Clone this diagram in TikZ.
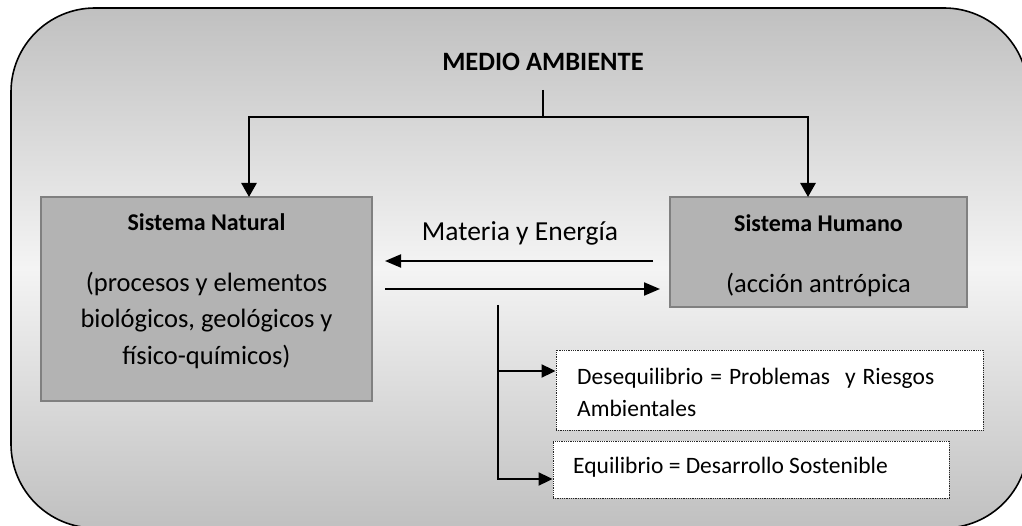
\documentclass[tikz,border=0pt]{standalone}
\usepackage{fontspec}
\setmainfont{Carlito}
\usetikzlibrary{arrows.meta,calc}
\definecolor{bgedge}{RGB}{192,192,192}
\definecolor{bgmid}{RGB}{244,244,244}
\definecolor{boxfill}{RGB}{179,179,179}
\definecolor{boxline}{RGB}{128,128,128}
\begin{document}
\begin{tikzpicture}[x=1pt,y=-1pt,
  conn/.style={line width=2.7pt,-{Triangle[width=15pt,length=14pt]}},
  flow/.style={line width=2pt,-{Triangle[width=13pt,length=16pt]}},
  branch/.style={line width=2pt,-{Triangle[width=13pt,length=14pt]}},
  plainline/.style={line width=2.7pt},
  sysbox/.style={draw=boxline,fill=boxfill,line width=1.5pt,inner sep=0pt,rectangle},
  outbox/.style={draw=black!85,fill=white,line width=0.9pt,dash pattern=on 0.9pt off 0.9pt,inner sep=0pt,rectangle},
  titletext/.style={font=\fontsize{24}{28}\selectfont\bfseries,inner sep=0pt},
  headtext/.style={font=\fontsize{26.5}{30}\selectfont\bfseries,inner sep=0pt},
  bodytext/.style={font=\fontsize{26.5}{36.5}\selectfont,align=center,inner sep=0pt},
  labeltext/.style={font=\fontsize{27.5}{32}\selectfont,inner sep=0pt},
  smalltext/.style={font=\fontsize{23.5}{32}\selectfont,align=left,inner sep=0pt}
]
\useasboundingbox (0,0) rectangle (1022,526);
\clip (0,0) rectangle (1022,526);
% background
\path[draw=black,line width=1.6pt,rounded corners=84pt,
  top color=bgedge,bottom color=bgedge,middle color=bgmid]
  (11,8) rectangle (1028,528);

% title
\node[headtext] (ma) at (543,62) {MEDIO AMBIENTE};

% system boxes
\node[sysbox,minimum width=331pt,minimum height=204pt] (sn) at (206.5,299) {};
\node[titletext] (snt) at (206.5,222) {Sistema Natural};
\node[bodytext] (snb) at (206.5,320) {(procesos y elementos\\biológicos, geológicos y\\físico-químicos)};

\node[sysbox,minimum width=297pt,minimum height=110pt] (sh) at (818.5,252) {};
\node[titletext] (sht) at (818.5,223) {Sistema Humano};
\node[bodytext] (shb) at (818.5,285) {(acción antrópica};

% outcome boxes
\node[outbox,minimum width=427pt,minimum height=80pt] (des) at (769.5,390) {};
\node[smalltext,anchor=west] (dest) at (577,392) {Desequilibrio\hspace{7pt}=\hspace{7pt}Problemas\hspace{15pt}y\hspace{7pt}Riesgos\\Ambientales};
\node[outbox,minimum width=396pt,minimum height=57pt] (eq) at (751,469.5) {};
\node[smalltext,anchor=west] (eqt) at (573,467) {Equilibrio = Desarrollo Sostenible};

% label
\node[labeltext] (me) at (520,233) {Materia y Energía};

% top connector
\coordinate (st) at (543,90);
\coordinate (jt) at (543,117);
\coordinate (snin) at (249,197);
\coordinate (shin) at (808,197);
\draw[plainline] (st) -- (jt);
\draw[conn] (jt) -| (snin);
\draw[conn] (jt) -| (shin);

% exchange arrows
\coordinate (m1s) at (653,261);
\coordinate (m1e) at (385,261);
\coordinate (m2s) at (385,289);
\coordinate (m2e) at (660,289);
\draw[flow] (m1s) -- (m1e);
\draw[flow] (m2s) -- (m2e);

% branches
\coordinate (vt) at (498,305);
\coordinate (b1) at (498,371);
\coordinate (b2) at (498,479);
\draw[line width=2pt] (vt) -- (b1);
\draw[branch] (b1) -- (b1 -| des.west);
\draw[branch] (b1) |- (b2 -| eq.west);
\end{tikzpicture}
\end{document}
